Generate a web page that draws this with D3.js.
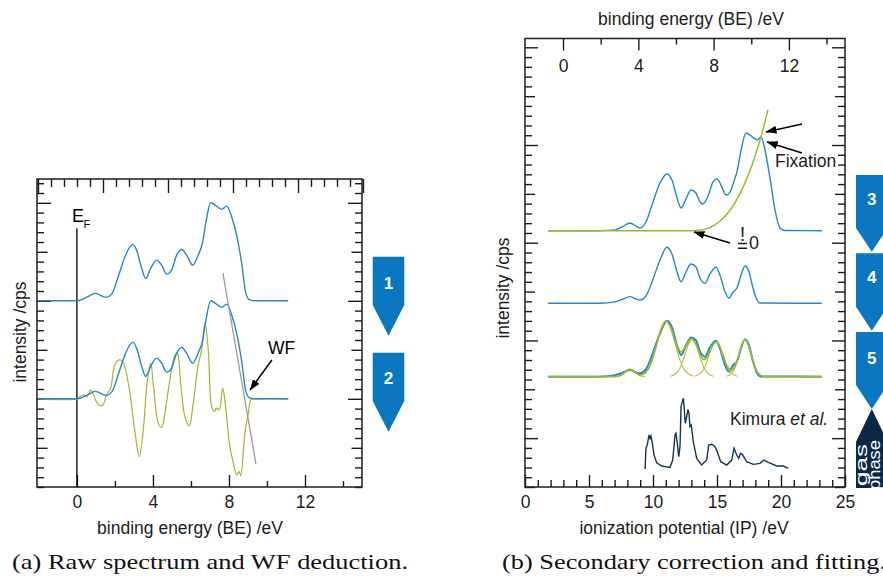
<!DOCTYPE html>
<html><head><meta charset="utf-8">
<script src="https://cdn.jsdelivr.net/npm/d3@7"></script>
<style>body{margin:0;background:#fff}svg{display:block}</style>
</head><body>
<svg id="c" width="883" height="577"></svg>
<script>
// ---------------- DATA ----------------
// Panel (a): raw UPS spectrum vs binding energy (eV), intensity (cps, arb. units above baseline)
const rawBE = [-2.04,0.02,0.51,0.98,1.53,1.83,2.17,2.53,2.93,3.14,3.41,3.62,3.88,4.19,4.46,4.72,4.98,5.25,5.51,5.77,6.09,6.38,6.62,6.79,7.04,7.35,7.62,7.88,8.14,8.44,8.67,8.89,9.11,9.46,11.12];
const rawI  = [0,0,0.35,0.76,0.35,0.68,2.45,4.49,5.76,5.17,3.31,2.29,3.31,4.15,3.64,2.72,3.13,4.66,5.24,4.66,3.64,4.66,6.02,8.06,10.00,9.66,9.33,9.66,8.57,6.37,3.82,0.76,0.07,0,0];
// derivative of the spectrum (green)
const derivBE = [-2.04,0.02,0.16,0.37,0.54,0.72,0.86,1.07,1.21,1.38,1.56,1.77,2.00,2.23,2.41,2.58,2.79,3.05,3.28,3.49,3.70,3.88,4.05,4.28,4.46,4.63,4.89,5.16,5.28,5.46,5.68,5.91,6.12,6.38,6.56,6.74,6.91,7.09,7.23,7.35,7.49,7.67,7.84,8.02,8.23,8.41,8.53,8.62,8.84,9.02,9.16,9.46,11.12];
const derivI  = [0,0,0.23,0.41,0.23,0.92,0.41,-0.44,-0.71,-0.61,0.41,1.09,3.47,3.98,3.81,2.79,0.58,-3.34,-5.89,-3.16,1.77,3.64,0.92,-2.48,-2.93,-1.46,1.94,4.49,4.66,1.60,-1.81,-2.76,-0.44,3.47,5.00,7.79,5.00,-0.79,-1.30,-0.95,-1.12,1.09,-1.12,-4.52,-6.56,-7.76,-7.42,-7.83,-3.50,-1.46,-0.10,0,0];
// linear fit of the high-BE edge (grey)
const edgeBE = [7.68, 9.42];
const edgeI  = [12.84, -6.65];
// stacking offsets (cps) of the two traces in panel (a)
const offsetsA = [20, 10];
const fermiTop = 27.4;
const tickBE_A = [0, 4, 8, 12];

// Panel (b): vs ionization potential (eV)
const step3IP = [1.80,5.86,7.03,7.58,8.20,8.67,8.98,9.45,9.92,10.55,11.09,11.48,11.88,12.19,12.58,12.97,13.36,13.67,13.91,14.30,14.69,15.00,15.31,15.63,15.78,16.09,16.41,16.56,16.88,17.27,17.66,18.13,18.44,18.75,19.14,19.53,19.92,20.31,23.20];
const step3I  = [0,0,0.08,0.38,0.79,0.48,0.28,0.89,2.63,4.89,5.81,5.19,3.35,2.33,3.25,4.17,3.86,2.94,2.74,3.56,4.99,5.30,4.67,3.76,3.66,4.17,5.40,6.01,8.26,10.00,9.70,9.29,9.59,8.26,5.40,2.12,0.28,0.02,0];
// secondary-electron background (green)
const bgIP = [1.80,12.89,13.67,14.45,15.23,16.02,16.80,17.58,18.36,18.98];
const bgI  = [0,0,0.05,0.33,0.97,2.09,3.79,6.15,9.27,12.36];
// background-corrected spectrum
const step4IP = [1.80,5.86,7.03,7.58,8.20,8.67,8.98,9.45,9.92,10.55,11.09,11.48,11.88,12.19,12.58,12.97,13.36,13.67,14.06,14.45,14.92,15.23,15.63,15.94,16.25,16.56,16.88,17.19,17.50,17.81,18.13,18.36,23.20];
const step4I  = [0,0,0.14,0.39,0.68,0.44,0.34,0.75,2.18,4.43,5.73,5.05,3.21,2.21,3.21,4.02,3.72,2.59,2.05,3.00,3.69,2.90,1.16,0.51,1.16,1.57,2.90,3.82,3.21,1.57,0.34,0.03,0];
// fit envelope
const fitIP = [1.8,7.0,7.6,8.0,8.2,8.4,8.8,9.0,9.4,9.8,10.2,10.6,11.0,11.4,11.8,12.2,12.6,13.0,13.4,13.8,14.0,14.2,14.6,15.0,15.4,15.8,16.2,16.6,17.0,17.2,17.4,17.8,18.2,18.6,19.2,23.2];
const fitI  = [0,0.01,0.23,0.67,0.76,0.67,0.27,0.18,0.40,1.25,2.87,4.76,5.70,4.96,3.35,2.53,3.16,3.89,3.20,1.95,1.74,1.95,3.09,3.55,2.45,1.04,0.65,1.74,3.46,3.76,3.40,1.62,0.37,0.04,0,0];
// individual fitted peaks
const peaksIP = [
  [7.03,7.42,7.62,7.81,8.01,8.20,8.40,8.59,8.79,8.98,9.37],
  [8.92,9.62,9.97,10.32,10.67,11.02,11.37,11.72,12.07,12.42,13.12],
  [11.40,11.95,12.23,12.50,12.78,13.05,13.33,13.60,13.88,14.15,14.70],
  [13.27,13.82,14.10,14.37,14.65,14.92,15.20,15.47,15.75,16.02,16.57],
  [15.78,16.25,16.49,16.72,16.96,17.19,17.43,17.66,17.90,18.13,18.60]];
const peaksI = [
  [0.01,0.10,0.25,0.46,0.67,0.76,0.67,0.46,0.25,0.10,0.01],
  [0.06,0.77,1.85,3.46,5.03,5.70,5.03,3.46,1.85,0.77,0.06],
  [0.04,0.51,1.23,2.30,3.34,3.79,3.34,2.30,1.23,0.51,0.04],
  [0.04,0.48,1.16,2.17,3.16,3.58,3.16,2.17,1.16,0.48,0.04],
  [0.04,0.51,1.22,2.28,3.32,3.76,3.32,2.28,1.22,0.51,0.04]];
// gas-phase reference (Kimura et al.)
const kimIP = [9.38,9.45,9.55,9.69,9.77,9.84,9.95,10.08,10.29,10.68,11.33,11.54,11.72,11.80,11.90,12.01,12.11,12.19,12.29,12.37,12.45,12.52,12.63,12.73,12.81,12.89,12.99,13.15,13.41,13.80,14.20,14.35,14.59,14.84,15.02,15.29,15.76,16.15,16.33,16.54,16.70,16.85,17.01,17.32,17.84,18.36,18.67,19.01,19.66,20.18,20.57];
const kimI  = [0,2.12,2.46,3.48,3.14,3.38,2.63,1.43,0.64,0.31,0.17,0.92,3.48,3.65,2.63,1.26,2.28,6.38,6.89,7.24,6.04,4.68,5.35,6.11,5.70,4.33,4.50,2.79,1.10,0.41,0.92,2.46,2.53,2.28,1.77,0.75,0.41,0.92,2.12,1.43,1.10,1.61,1.43,0.75,0.48,0.58,0.92,0.69,0.31,0.31,0.07];
// stacking offsets (cps) of the four traces in panel (b)
const offsetsB = [26.23, 18.80, 11.29, 1.84];
const tickIP = [0, 5, 10, 15, 20, 25];
const tickBE_B = [0, 4, 8, 12];
const stepLabels = ["1", "2", "3", "4", "5"];

// ---------------- STYLE ----------------
const svg = d3.select("#c");
const FONT = '"Liberation Sans", Arial, Helvetica, sans-serif';
const SERIF = '"Liberation Serif", "DejaVu Serif", serif';
const INK = "#1c1c1c";
const BLUE = "#2586ca", GREEN = "#9aba2c", GREEN_L = "#a9c43c", GREY = "#9b9b9b";
const NAVY = "#12345a", BADGE = "#0a77c0", BADGE_DARK = "#0b2947";
const FS = 17.5;

// ---------------- SCALES ----------------
const xA = d3.scaleLinear().domain([-2.1, 15]).range([37, 362]);
const xAtop = d3.scaleLinear().domain([0, 25]).range([38, 363]);
const yA = d3.scaleLinear().domain([1, 32.43]).range([487, 179]);
const xB = d3.scaleLinear().domain([0, 25]).range([525, 845]);
const xBtop = d3.scaleLinear().domain([-2.02, 14.98]).range([525, 845]);
const yB = d3.scaleLinear().domain([0, 45.9]).range([487, 38.5]);

const defs = svg.append("defs");
defs.append("marker").attr("id", "ah").attr("viewBox", "0 0 11 8")
  .attr("refX", 10.5).attr("refY", 4).attr("markerWidth", 11).attr("markerHeight", 8)
  .attr("markerUnits", "userSpaceOnUse").attr("orient", "auto")
  .append("path").attr("d", "M0,0L11,4L0,8z").attr("fill", "#000");
defs.append("clipPath").attr("id", "clipB").append("rect").attr("x", 525).attr("y", 38.5).attr("width", 320).attr("height", 448.5);
defs.append("clipPath").attr("id", "clipGas").append("path").attr("d", "M871.8,409L887.6,441.7V488H856V441.7Z");

function axisTicks(gen, scale, vals, len, tr, fmt, pad) {
  const ax = gen(scale).tickValues(vals).tickSizeInner(len).tickSizeOuter(0)
    .tickPadding(pad || 0).tickFormat(fmt || (() => ""));
  const g = svg.append("g").attr("transform", tr).call(ax);
  g.select(".domain").remove();
  g.selectAll("line").attr("stroke", INK).attr("stroke-width", 1.4);
  g.selectAll("text").attr("font-size", FS).attr("font-family", FONT).attr("fill", INK);
  return g;
}
const fmtD = d3.format("d");

// ---------------- PANEL (a) ----------------
axisTicks(d3.axisBottom, xA, tickBE_A, -12, "translate(0,487)", fmtD, 9);
axisTicks(d3.axisBottom, xA, [2, 6, 10, 14], -6, "translate(0,487)");
const topA = d3.range(0, 26);
axisTicks(d3.axisTop, xAtop, topA.filter(d => d % 5 === 0), -14, "translate(0,179)");
axisTicks(d3.axisTop, xAtop, topA.filter(d => d % 5 !== 0), -8, "translate(0,179)");
const vA = d3.range(1, 33);
[[d => d % 10 === 0, 14], [d => d % 10 === 5, 10.5], [d => d % 5 !== 0, 7]].forEach(([f, L]) => {
  axisTicks(d3.axisLeft, yA, vA.filter(f), -L, "translate(37,0)");
  axisTicks(d3.axisRight, yA, vA.filter(f), -L, "translate(362,0)");
});
svg.append("rect").attr("x", 37).attr("y", 179).attr("width", 325).attr("height", 308)
  .attr("fill", "none").attr("stroke", INK).attr("stroke-width", 1.5);

// Fermi level
svg.append("line").attr("x1", xA(0)).attr("x2", xA(0)).attr("y1", yA(fermiTop)).attr("y2", yA(1))
  .attr("stroke", "#000").attr("stroke-width", 1.3);

const lineA = (xs, ys, off, curve) => d3.line().x(d => xA(d[0])).y(d => yA(d[1] + off))
  .curve(curve || d3.curveMonotoneX)(d3.zip(xs, ys));
svg.append("path").attr("d", lineA(rawBE, rawI, offsetsA[0])).attr("fill", "none").attr("stroke", BLUE).attr("stroke-width", 1.4);
svg.append("path").attr("d", lineA(derivBE, derivI, offsetsA[1], d3.curveCatmullRom)).attr("fill", "none").attr("stroke", GREEN).attr("stroke-width", 1.2);
svg.append("path").attr("d", lineA(rawBE, rawI, offsetsA[1])).attr("fill", "none").attr("stroke", BLUE).attr("stroke-width", 1.4);
svg.append("path").attr("d", lineA(edgeBE, edgeI, offsetsA[1], d3.curveLinear)).attr("fill", "none").attr("stroke", GREY).attr("stroke-width", 1.3);

svg.append("text").attr("x", 72).attr("y", 222).attr("font-family", FONT).attr("font-size", 18).attr("fill", "#000").text("E");
svg.append("text").attr("x", 83.5).attr("y", 227.5).attr("font-family", FONT).attr("font-size", 11).attr("fill", "#000").text("F");
svg.append("text").attr("x", 268).attr("y", 353.5).attr("font-family", FONT).attr("font-size", FS).attr("fill", "#000").text("WF");
svg.append("line").attr("x1", xA(10.26)).attr("y1", yA(offsetsA[1] + 3.96)).attr("x2", xA(9.11)).attr("y2", yA(offsetsA[1] + 0.90))
  .attr("stroke", "#000").attr("stroke-width", 1.5).attr("marker-end", "url(#ah)");
svg.append("text").attr("x", 190).attr("y", 534).attr("text-anchor", "middle").attr("font-family", FONT).attr("font-size", FS).attr("fill", INK).text("binding energy (BE) /eV");
svg.append("text").attr("transform", "translate(26,332) rotate(-90)").attr("text-anchor", "middle").attr("font-family", FONT).attr("font-size", FS).attr("fill", INK).text("intensity /cps");
svg.append("text").attr("x", 12).attr("y", 569).attr("font-family", SERIF).attr("font-size", 21)
  .attr("textLength", 396).attr("lengthAdjust", "spacingAndGlyphs").attr("fill", "#111").text("(a) Raw spectrum and WF deduction.");

// ---------------- PANEL (b) ----------------
axisTicks(d3.axisBottom, xB, tickIP, -12, "translate(0,487)", fmtD, 8.5);
axisTicks(d3.axisBottom, xB, d3.range(1, 25).filter(d => d % 5 !== 0), -7, "translate(0,487)");
axisTicks(d3.axisBottom, xBtop, tickBE_B, 12, "translate(0,38.5)", fmtD, 9.5);
axisTicks(d3.axisBottom, xBtop, [2, 6, 10, 14], 6, "translate(0,38.5)");
const vB = d3.range(0, 46);
[[d => d % 10 === 5, 13], [d => d % 10 === 0, 10], [d => d % 5 !== 0, 7]].forEach(([f, L]) => {
  axisTicks(d3.axisLeft, yB, vB.filter(f), -L, "translate(525,0)");
  axisTicks(d3.axisRight, yB, vB.filter(f), -L, "translate(845,0)");
});
svg.append("rect").attr("x", 525).attr("y", 38.5).attr("width", 320).attr("height", 448.5)
  .attr("fill", "none").attr("stroke", INK).attr("stroke-width", 1.5);

const lineB = (xs, ys, off, curve) => d3.line().x(d => xB(d[0])).y(d => yB(d[1] + off))
  .curve(curve || d3.curveMonotoneX)(d3.zip(xs, ys));
const gB = svg.append("g").attr("clip-path", "url(#clipB)");
gB.append("path").attr("d", lineB(step3IP, step3I, offsetsB[0])).attr("fill", "none").attr("stroke", BLUE).attr("stroke-width", 1.4);
gB.append("path").attr("d", lineB(bgIP, bgI, offsetsB[0])).attr("fill", "none").attr("stroke", GREEN).attr("stroke-width", 1.5);
gB.append("path").attr("d", lineB(step4IP, step4I, offsetsB[1])).attr("fill", "none").attr("stroke", BLUE).attr("stroke-width", 1.4);
gB.append("path").attr("d", lineB(step4IP, step4I, offsetsB[2])).attr("fill", "none").attr("stroke", BLUE).attr("stroke-width", 2.0);
peaksIP.forEach((xs, k) => {
  gB.append("path").attr("d", lineB(xs, peaksI[k], offsetsB[2])).attr("fill", "none").attr("stroke", GREEN_L).attr("stroke-width", 1.1);
});
gB.append("path").attr("d", lineB(fitIP, fitI, offsetsB[2])).attr("fill", "none").attr("stroke", GREEN).attr("stroke-width", 1.7);
gB.append("path").attr("d", lineB(kimIP, kimI, offsetsB[3], d3.curveLinear)).attr("fill", "none").attr("stroke", NAVY).attr("stroke-width", 1.4);

// annotations
const arrowB = (x1, y1, x2, y2) => svg.append("line").attr("x1", xB(x1)).attr("y1", yB(y1)).attr("x2", xB(x2)).attr("y2", yB(y2))
  .attr("stroke", "#000").attr("stroke-width", 1.5).attr("marker-end", "url(#ah)");
arrowB(21.64, 37.15, 18.83, 36.33);
arrowB(21.64, 34.19, 18.91, 35.31);
arrowB(16.02, 24.97, 13.20, 26.10);
const tB = (x, y, s, fs) => svg.append("text").attr("x", x).attr("y", y).attr("font-family", FONT).attr("font-size", fs || FS).attr("fill", INK).text(s);
tB(775, 167, "Fixation");
// "!=" stacked sign: exclamation mark over an equals sign drawn as two bars
tB(742.5, 241, "!", 20).attr("text-anchor", "middle");
svg.append("path").attr("d", "M738,243.6H747M738,248.2H747").attr("stroke", INK).attr("stroke-width", 1.5);
tB(749, 248.5, "0", 18);
const kim = tB(730, 425, "Kimura ");
kim.append("tspan").attr("font-style", "italic").text("et al.");
svg.append("text").attr("x", 691).attr("y", 25).attr("text-anchor", "middle").attr("font-family", FONT).attr("font-size", FS).attr("fill", INK).text("binding energy (BE) /eV");
svg.append("text").attr("x", 684).attr("y", 533.5).attr("text-anchor", "middle").attr("font-family", FONT).attr("font-size", FS).attr("fill", INK).text("ionization potential (IP) /eV");
svg.append("text").attr("transform", "translate(509,288) rotate(-90)").attr("text-anchor", "middle").attr("font-family", FONT).attr("font-size", FS).attr("fill", INK).text("intensity /cps");
svg.append("text").attr("x", 502).attr("y", 569).attr("font-family", SERIF).attr("font-size", 21)
  .attr("textLength", 384).attr("lengthAdjust", "spacingAndGlyphs").attr("fill", "#111").text("(b) Secondary correction and fitting.");

// ---------------- STEP BADGES ----------------
const badgeGeo = [
  {x: 372.7, top: 256.7, body: 305, tip: 335.7, ty: 283},
  {x: 372.7, top: 352.7, body: 401, tip: 431.7, ty: 378.5},
  {x: 856, top: 175, body: 228, tip: 251.7, ty: 199.5},
  {x: 856, top: 253.3, body: 306.7, tip: 330.7, ty: 277},
  {x: 856, top: 332, body: 385, tip: 409, ty: 358.5}];
const BW = 31.6;
badgeGeo.forEach((b, i) => {
  const xc = b.x + BW / 2;
  svg.append("path").attr("d", `M${b.x},${b.top}H${b.x + BW}V${b.body}L${xc},${b.tip}L${b.x},${b.body}Z`).attr("fill", BADGE);
  svg.append("text").attr("x", xc).attr("y", b.ty).attr("dy", "0.35em").attr("text-anchor", "middle")
    .attr("font-family", FONT).attr("font-weight", "bold").attr("font-size", 17).attr("fill", "#fff").text(stepLabels[i]);
});
// gas phase badge
svg.append("path").attr("d", "M871.8,409L887.6,441.7V488H856V441.7Z").attr("fill", BADGE_DARK);
const gGas = svg.append("g").attr("clip-path", "url(#clipGas)").attr("font-family", FONT).attr("font-size", 16).attr("fill", "#fff");
gGas.append("text").attr("transform", "translate(867,486) rotate(-90)").attr("textLength", 42).attr("lengthAdjust", "spacingAndGlyphs").text("gas");
gGas.append("text").attr("transform", "translate(879.5,490) rotate(-90)").attr("textLength", 50).attr("lengthAdjust", "spacingAndGlyphs").text("phase");
</script>
</body></html>
